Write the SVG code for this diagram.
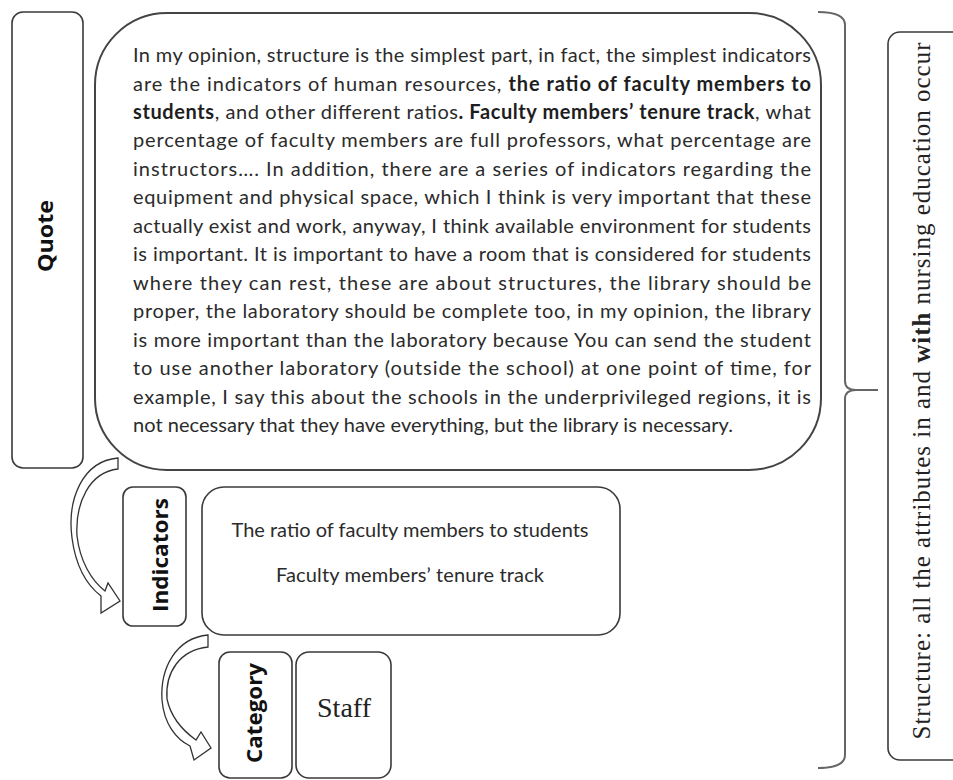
<svg xmlns="http://www.w3.org/2000/svg" width="953" height="780" viewBox="0 0 953 780">
<style>
.box{fill:#fff;stroke:#3a3a3a;stroke-width:1.6}
.big{fill:#fff;stroke:#444;stroke-width:2}
.q{font-family:Lato,"Liberation Sans",sans-serif;font-size:20px;fill:#2b2b2b}
.b{font-weight:bold;fill:#1e1e1e}
.lab{font-family:"Open Sans","Liberation Sans",sans-serif;font-weight:bold;font-size:22px;fill:#111;text-anchor:middle}
.serif{font-family:"Liberation Serif","Times New Roman",serif;fill:#222}
.arr{fill:#fff;stroke:#333;stroke-width:1.3;stroke-linejoin:miter}
.brace{fill:none;stroke:#666;stroke-width:2}
</style>
<rect width="953" height="780" fill="#fff"/>

<g id="quote-label">
<rect class="box" x="12" y="12" width="71" height="456" rx="11"/>
<text class="lab" transform="translate(53,236) rotate(-90)" textLength="72" lengthAdjust="spacingAndGlyphs">Quote</text>
</g>

<g id="quote-text">
<rect class="big" x="95" y="13" width="726" height="457" rx="72"/>
<g class="q">
<text x="133" y="62" textLength="678" lengthAdjust="spacing">In my opinion, structure is the simplest part, in fact, the simplest indicators</text>
<text x="133" y="90.5" textLength="678" lengthAdjust="spacing">are the indicators of human resources, <tspan class="b">the ratio of faculty members to</tspan></text>
<text x="133" y="119" textLength="678" lengthAdjust="spacing"><tspan class="b">students</tspan>, and other different ratios<tspan class="b">. Faculty members’ tenure track</tspan>, what</text>
<text x="133" y="147.4" textLength="678" lengthAdjust="spacing">percentage of faculty members are full professors, what percentage are</text>
<text x="133" y="175.8" textLength="678" lengthAdjust="spacing">instructors…. In addition, there are a series of indicators regarding the</text>
<text x="133" y="204.3" textLength="678" lengthAdjust="spacing">equipment and physical space, which I think is very important that these</text>
<text x="133" y="232.8" textLength="678" lengthAdjust="spacing">actually exist and work, anyway, I think available environment for students</text>
<text x="133" y="261.2" textLength="678" lengthAdjust="spacing">is important. It is important to have a room that is considered for students</text>
<text x="133" y="289.7" textLength="678" lengthAdjust="spacing">where they can rest, these are about structures, the library should be</text>
<text x="133" y="318.1" textLength="678" lengthAdjust="spacing">proper, the laboratory should be complete too, in my opinion, the library</text>
<text x="133" y="346.6" textLength="678" lengthAdjust="spacing">is more important than the laboratory because You can send the student</text>
<text x="133" y="375" textLength="678" lengthAdjust="spacing">to use another laboratory (outside the school) at one point of time, for</text>
<text x="133" y="403.5" textLength="678" lengthAdjust="spacing">example, I say this about the schools in the underprivileged regions, it is</text>
<text x="133" y="432" textLength="600" lengthAdjust="spacing">not necessary that they have everything, but the library is necessary.</text>
</g>
</g>

<g id="indicators-label">
<rect class="box" x="123" y="487" width="63" height="139" rx="10"/>
<text class="lab" transform="translate(168,555) rotate(-90)" textLength="114" lengthAdjust="spacingAndGlyphs">Indicators</text>
</g>

<g id="indicators-content">
<rect class="box" x="202" y="487" width="418" height="148" rx="22"/>
<text class="q" x="410" y="537" text-anchor="middle" textLength="357" lengthAdjust="spacing">The ratio of faculty members to students</text>
<text class="q" x="410" y="582" text-anchor="middle" textLength="268" lengthAdjust="spacing">Faculty members’ tenure track</text>
</g>

<g id="category-label">
<rect class="box" x="219" y="652" width="73" height="126" rx="11"/>
<text class="lab" transform="translate(262,713) rotate(-90)" textLength="100" lengthAdjust="spacingAndGlyphs">Category</text>
</g>

<g id="staff">
<rect class="box" x="296" y="652" width="95" height="126" rx="13"/>
<text class="serif" x="344" y="717" text-anchor="middle" font-size="28">Staff</text>
</g>

<g id="structure-label">
<rect class="box" x="888" y="32" width="90" height="728" rx="12"/>
<text class="serif" transform="translate(930,391) rotate(-90)" text-anchor="middle" font-size="25" textLength="697" lengthAdjust="spacing">Structure: all the attributes in and <tspan font-weight="bold">with</tspan> nursing education occur</text>
</g>

<g id="connectors">
<path class="arr" d="M118,458 C82,461 67,500 72,538 C76,568 88,586 101,596 L101,613 L120,601 L108,583 L105,591 C91,580 80,561 77,536 C75,502 90,472 118,469 Z"/>
<path class="arr" d="M208,635 C176,638 160,668 162,700 C164,724 176,739 190,746 L194,760 L211,748 L201,732 L196,740 C182,730 171,718 167,699 C165,672 180,650 208,647 Z"/>
<path class="brace" d="M818,12 Q845,12 845,25 L845,381 Q845,390 856,390 L878,390 M856,390 Q845,390 845,399 L845,755 Q845,768 818,768"/>
</g>
</svg>
